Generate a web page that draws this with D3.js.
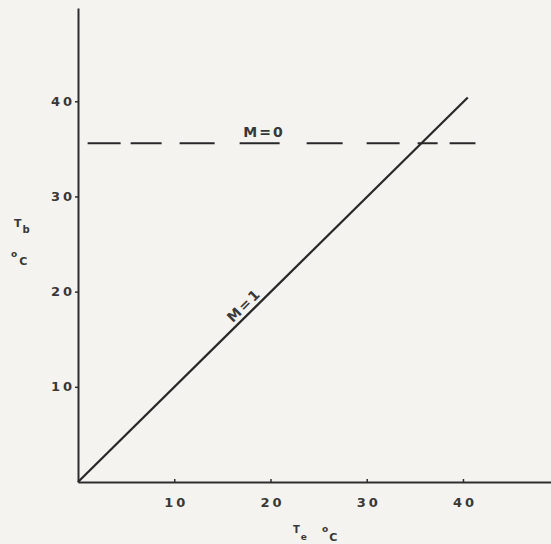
<!DOCTYPE html>
<html>
<head>
<meta charset="utf-8">
<script src="https://cdn.jsdelivr.net/npm/d3@7"></script>
<style>
  body { margin: 0; background: #f4f3f0; }
  svg { display: block; }
  .tick text { font-family: "DejaVu Sans", sans-serif; font-weight: bold; fill: #383838; letter-spacing: 3px; }
  .lbl { font-family: "DejaVu Sans", sans-serif; font-weight: bold; fill: #383838; }
</style>
</head>
<body>
<svg></svg>
<script>
const width = 551;
const height = 544;

// datos
const xTicks = [10, 20, 30, 40];
const yTicks = [10, 20, 30, 40];
const lineM1 = [[0, 0], [40.5, 40.4]];   // M = 1, Tb = Te
const lineM0 = [[1.0, 35.6], [41.3, 35.6]]; // M = 0, Tb constante

const svg = d3.select("svg").attr("width", width).attr("height", height);

const x = d3.scaleLinear().domain([0, 49.2]).range([78, 551.5]);
const y = d3.scaleLinear().domain([0, 49.8]).range([482, 8]);

// ejes
const gx = svg.append("g")
  .attr("transform", `translate(0,${y(0)})`)
  .call(d3.axisTop(x).tickValues(xTicks).tickSize(3).tickSizeOuter(0).tickFormat(d3.format("d")));
gx.select(".domain").attr("stroke", "#2e2e2e").attr("stroke-width", 2);
gx.selectAll(".tick line").attr("stroke", "#2e2e2e").attr("stroke-width", 1.5);
gx.selectAll(".tick text").attr("x", 1.5).attr("y", 25).style("font-size", "13px").attr("dy", 0);

const gy = svg.append("g")
  .attr("transform", `translate(${x(0)},0)`)
  .call(d3.axisLeft(y).tickValues(yTicks).tickSize(3).tickSizeOuter(0).tickFormat(d3.format("d")));
gy.select(".domain").attr("stroke", "#2e2e2e").attr("stroke-width", 2);
gy.selectAll(".tick line").attr("stroke", "#2e2e2e").attr("stroke-width", 1.5);
gy.selectAll(".tick text").attr("x", -3).style("font-size", "13px");

const line = d3.line().x(d => x(d[0])).y(d => y(d[1]));

// M = 1
svg.append("path")
  .datum(lineM1)
  .attr("d", line)
  .attr("fill", "none")
  .attr("stroke", "#282828")
  .attr("stroke-width", 2.2);

// M = 0 (trazos dibujados a mano, irregulares)
svg.append("path")
  .datum(lineM0)
  .attr("d", line)
  .attr("fill", "none")
  .attr("stroke", "#282828")
  .attr("stroke-width", 2)
  .attr("stroke-dasharray", "33,10,31,18,35,25,40,27,36,24,33,18,20,12,26,40");

// etiquetas de las lineas
svg.append("text")
  .attr("class", "lbl")
  .attr("x", 264)
  .attr("y", 137)
  .style("text-anchor", "middle")
  .style("font-size", "14px")
  .style("letter-spacing", "2px")
  .text("M=0");

const ang = -Math.atan2(y(0) - y(1), x(1) - x(0)) * 180 / Math.PI;
svg.append("text")
  .attr("class", "lbl")
  .attr("transform", `translate(${x(17.9)},${y(17.9)}) rotate(${ang})`)
  .attr("y", -4)
  .style("text-anchor", "middle")
  .style("font-size", "14px")
  .style("letter-spacing", "2px")
  .text("M=1");

// titulos de los ejes
const ty = svg.append("text").attr("class", "lbl").attr("x", 14).attr("y", 227).style("font-size", "11px");
ty.append("tspan").text("T");
ty.append("tspan").attr("dx", 1).attr("dy", 6).style("font-size", "10px").text("b");
const cy = svg.append("text").attr("class", "lbl").attr("x", 11).attr("y", 265).style("font-size", "11px");
cy.append("tspan").attr("dy", -8).style("font-size", "9px").text("o");
cy.append("tspan").attr("dx", 2).attr("dy", 8).text("C");

const tx = svg.append("text").attr("class", "lbl").attr("x", 293).attr("y", 533).style("font-size", "10px");
tx.append("tspan").text("T");
tx.append("tspan").attr("dx", 1).attr("dy", 7).style("font-size", "9px").text("e");
const cx = svg.append("text").attr("class", "lbl").attr("x", 322).attr("y", 541).style("font-size", "11px");
cx.append("tspan").attr("dy", -9).style("font-size", "9px").text("o");
cx.append("tspan").attr("dx", 1).attr("dy", 9).text("C");
</script>
</body>
</html>
